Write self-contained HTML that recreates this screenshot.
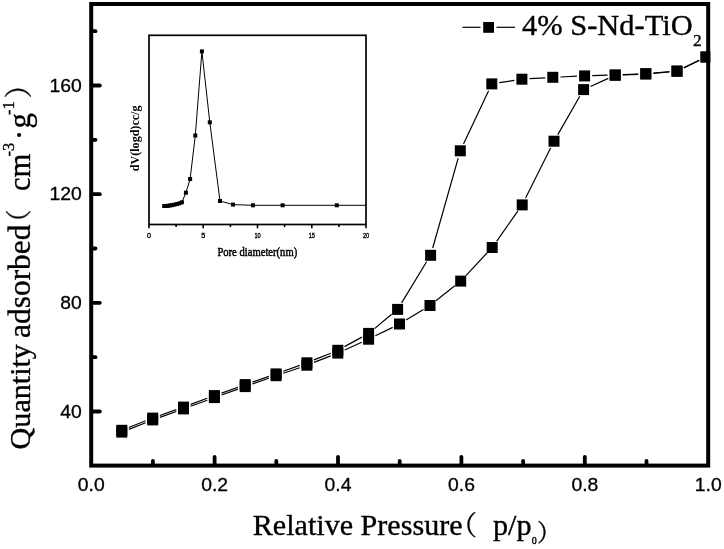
<!DOCTYPE html>
<html><head><meta charset="utf-8"><title>N2 adsorption isotherm</title>
<style>html,body{margin:0;padding:0;background:#fff}svg{display:block}</style></head>
<body>
<svg width="724" height="549" viewBox="0 0 724 549">
<rect width="724" height="549" fill="#fff"/>
<g stroke="#000" stroke-width="1.2" fill="none">
<line x1="128.9" y1="429.4" x2="145.6" y2="422.7"/>
<line x1="159.9" y1="417.4" x2="176.3" y2="411.5"/>
<line x1="190.6" y1="406.3" x2="207.3" y2="400.2"/>
<line x1="221.6" y1="395.0" x2="238.0" y2="389.1"/>
<line x1="252.4" y1="384.0" x2="268.9" y2="378.3"/>
<line x1="283.3" y1="373.3" x2="299.7" y2="367.7"/>
<line x1="314.0" y1="362.4" x2="330.7" y2="355.9"/>
<line x1="344.7" y1="350.0" x2="361.7" y2="342.3"/>
<line x1="375.4" y1="335.8" x2="392.7" y2="327.4"/>
<line x1="406.0" y1="320.1" x2="423.5" y2="309.4"/>
<line x1="435.9" y1="300.8" x2="454.8" y2="285.8"/>
<line x1="465.9" y1="275.6" x2="487.0" y2="253.0"/>
<line x1="496.6" y1="241.3" x2="517.8" y2="211.1"/>
<line x1="525.6" y1="198.1" x2="550.6" y2="148.0"/>
<line x1="557.8" y1="134.6" x2="579.8" y2="96.2"/>
<line x1="590.5" y1="86.5" x2="608.3" y2="78.4"/>
<line x1="622.8" y1="75.0" x2="638.2" y2="74.3"/>
<line x1="653.4" y1="73.3" x2="669.4" y2="72.0"/>
<line x1="683.8" y1="67.9" x2="699.2" y2="60.4"/>
<line x1="699.2" y1="60.3" x2="683.8" y2="67.7"/>
<line x1="669.4" y1="71.7" x2="653.4" y2="73.0"/>
<line x1="638.2" y1="74.0" x2="622.8" y2="74.6"/>
<line x1="607.6" y1="75.1" x2="592.2" y2="75.7"/>
<line x1="577.0" y1="76.2" x2="560.4" y2="77.0"/>
<line x1="545.2" y1="77.8" x2="529.5" y2="78.7"/>
<line x1="514.4" y1="80.4" x2="499.3" y2="82.7"/>
<line x1="488.6" y1="90.8" x2="463.5" y2="143.9"/>
<line x1="458.2" y1="158.1" x2="432.7" y2="248.0"/>
<line x1="426.6" y1="261.8" x2="401.6" y2="302.9"/>
<line x1="391.7" y1="314.2" x2="374.5" y2="328.6"/>
<line x1="361.9" y1="337.1" x2="344.5" y2="346.6"/>
<line x1="330.8" y1="353.2" x2="313.9" y2="359.9"/>
<line x1="299.7" y1="365.4" x2="283.3" y2="371.3"/>
<line x1="268.9" y1="376.4" x2="252.4" y2="382.1"/>
<line x1="238.0" y1="387.2" x2="221.6" y2="393.1"/>
<line x1="207.3" y1="398.3" x2="190.6" y2="404.4"/>
<line x1="176.3" y1="409.6" x2="159.9" y2="415.5"/>
<line x1="145.6" y1="420.8" x2="128.9" y2="427.5"/>
</g>
<clipPath id="pc"><rect x="89" y="2" width="621.2" height="466"/></clipPath>
<g fill="#000" clip-path="url(#pc)">
<rect x="116.3" y="426.6" width="11.0" height="11.0"/>
<rect x="147.2" y="414.4" width="11.0" height="11.0"/>
<rect x="178.0" y="403.4" width="11.0" height="11.0"/>
<rect x="208.9" y="392.1" width="11.0" height="11.0"/>
<rect x="239.7" y="381.1" width="11.0" height="11.0"/>
<rect x="270.6" y="370.2" width="11.0" height="11.0"/>
<rect x="301.4" y="359.7" width="11.0" height="11.0"/>
<rect x="332.3" y="347.6" width="11.0" height="11.0"/>
<rect x="363.1" y="333.7" width="11.0" height="11.0"/>
<rect x="394.0" y="318.5" width="11.0" height="11.0"/>
<rect x="424.5" y="300.0" width="11.0" height="11.0"/>
<rect x="455.2" y="275.6" width="11.0" height="11.0"/>
<rect x="486.7" y="242.0" width="11.0" height="11.0"/>
<rect x="516.7" y="199.4" width="11.0" height="11.0"/>
<rect x="548.5" y="135.7" width="11.0" height="11.0"/>
<rect x="578.1" y="84.1" width="11.0" height="11.0"/>
<rect x="609.7" y="69.8" width="11.0" height="11.0"/>
<rect x="640.3" y="68.5" width="11.0" height="11.0"/>
<rect x="671.5" y="65.8" width="11.0" height="11.0"/>
<rect x="700.5" y="51.5" width="11.0" height="11.0"/>
<rect x="700.5" y="51.5" width="11.0" height="11.0"/>
<rect x="671.5" y="65.5" width="11.0" height="11.0"/>
<rect x="640.3" y="68.2" width="11.0" height="11.0"/>
<rect x="609.7" y="69.4" width="11.0" height="11.0"/>
<rect x="579.1" y="70.4" width="11.0" height="11.0"/>
<rect x="547.3" y="71.8" width="11.0" height="11.0"/>
<rect x="516.4" y="73.7" width="11.0" height="11.0"/>
<rect x="486.3" y="78.4" width="11.0" height="11.0"/>
<rect x="454.8" y="145.3" width="11.0" height="11.0"/>
<rect x="425.1" y="249.8" width="11.0" height="11.0"/>
<rect x="392.1" y="303.9" width="11.0" height="11.0"/>
<rect x="363.1" y="327.9" width="11.0" height="11.0"/>
<rect x="332.3" y="344.8" width="11.0" height="11.0"/>
<rect x="301.4" y="357.3" width="11.0" height="11.0"/>
<rect x="270.6" y="368.4" width="11.0" height="11.0"/>
<rect x="239.7" y="379.1" width="11.0" height="11.0"/>
<rect x="208.9" y="390.1" width="11.0" height="11.0"/>
<rect x="178.0" y="401.6" width="11.0" height="11.0"/>
<rect x="147.2" y="412.6" width="11.0" height="11.0"/>
<rect x="116.3" y="424.8" width="11.0" height="11.0"/>
</g>
<rect x="91.2" y="4.0" width="617.0" height="461.6" fill="none" stroke="#000" stroke-width="4"/>
<g stroke="#000" stroke-width="3.8" stroke-linecap="round">
<line x1="152.9" y1="464.1" x2="152.9" y2="461.0"/>
<line x1="214.6" y1="464.1" x2="214.6" y2="456.8"/>
<line x1="276.3" y1="464.1" x2="276.3" y2="461.0"/>
<line x1="338.0" y1="464.1" x2="338.0" y2="456.8"/>
<line x1="399.7" y1="464.1" x2="399.7" y2="461.0"/>
<line x1="461.4" y1="464.1" x2="461.4" y2="456.8"/>
<line x1="523.1" y1="464.1" x2="523.1" y2="461.0"/>
<line x1="584.8" y1="464.1" x2="584.8" y2="456.8"/>
<line x1="646.5" y1="464.1" x2="646.5" y2="461.0"/>
<line x1="92.7" y1="411.5" x2="99.8" y2="411.5"/>
<line x1="92.7" y1="357.2" x2="95.5" y2="357.2"/>
<line x1="92.7" y1="302.8" x2="99.8" y2="302.8"/>
<line x1="92.7" y1="248.5" x2="95.5" y2="248.5"/>
<line x1="92.7" y1="194.2" x2="99.8" y2="194.2"/>
<line x1="92.7" y1="139.8" x2="95.5" y2="139.8"/>
<line x1="92.7" y1="85.5" x2="99.8" y2="85.5"/>
<line x1="92.7" y1="31.2" x2="95.5" y2="31.2"/>
</g>
<g font-family="'Liberation Sans', Arial, sans-serif" font-size="18.6" fill="#000" stroke="#000" stroke-width="0.3">
<text x="77.8" y="491.2" textLength="26.9" lengthAdjust="spacingAndGlyphs">0.0</text>
<text x="201.2" y="491.2" textLength="26.9" lengthAdjust="spacingAndGlyphs">0.2</text>
<text x="324.6" y="491.2" textLength="26.9" lengthAdjust="spacingAndGlyphs">0.4</text>
<text x="448.0" y="491.2" textLength="26.9" lengthAdjust="spacingAndGlyphs">0.6</text>
<text x="571.4" y="491.2" textLength="26.9" lengthAdjust="spacingAndGlyphs">0.8</text>
<text x="694.8" y="491.2" textLength="26.9" lengthAdjust="spacingAndGlyphs">1.0</text>
<text x="60.3" y="417.7" textLength="21.5" lengthAdjust="spacingAndGlyphs">40</text>
<text x="60.3" y="309.0" textLength="21.5" lengthAdjust="spacingAndGlyphs">80</text>
<text x="49.5" y="200.4" textLength="32.3" lengthAdjust="spacingAndGlyphs">120</text>
<text x="49.5" y="91.7" textLength="32.3" lengthAdjust="spacingAndGlyphs">160</text>
</g>
<g font-family="'Liberation Serif', 'Noto Serif CJK SC', serif" fill="#000" stroke="#000" stroke-width="0.35">
<text x="252.8" y="535" font-size="28.8" textLength="209.8" lengthAdjust="spacingAndGlyphs">Relative Pressure</text>
<text x="450" y="535" font-size="27" font-family="'Noto Serif CJK SC', serif">（</text>
<text x="493" y="535" font-size="28.8" textLength="38.5" lengthAdjust="spacingAndGlyphs">p/p</text>
<text x="531.8" y="544.2" font-size="10">0</text>
<text x="537" y="541" font-size="24" font-family="'Noto Serif CJK SC', serif">）</text>
<g transform="translate(29.5,449.4) rotate(-90)">
<text x="0" y="0" font-size="30.1">Quantity</text>
<text x="111.5" y="0" font-size="31.4">adsorbed</text>
<text x="214" y="-2" font-size="26" font-family="'Noto Serif CJK SC', serif">（</text>
<text x="258.3" y="0" font-size="30.7">cm</text>
<text x="293" y="-16" font-size="16.5">-3</text>
<text x="309.5" y="0" font-size="30.7">·</text>
<text x="321" y="0" font-size="30.7">g</text>
<text x="334.5" y="-16" font-size="16.5">-1</text>
<text x="351" y="-1" font-size="28" font-family="'Noto Serif CJK SC', serif">）</text>
</g>
<line x1="462.5" y1="27.3" x2="480.5" y2="27.3" stroke="#000" stroke-width="1.2"/>
<line x1="496.5" y1="27.3" x2="515" y2="27.3" stroke="#000" stroke-width="1.2"/>
<rect x="483.2" y="22" width="10.8" height="10.8" stroke="none"/>
<text x="522" y="34.5" font-size="28.8" textLength="170.7" lengthAdjust="spacingAndGlyphs">4% S-Nd-TiO</text>
<text x="693" y="45.6" font-size="17.3">2</text>
</g>
<rect x="149.0" y="35.3" width="217.0" height="189.2" fill="#fff" stroke="#000" stroke-width="1.7"/>
<polyline fill="none" stroke="#000" stroke-width="1" points="164.2,206.0 166.0,206.0 168.0,205.8 170.0,205.5 172.0,205.1 174.5,204.6 177.0,204.0 179.5,203.3 181.9,202.3 185.9,192.7 190.1,179.0 195.3,135.5 201.9,51.4 209.8,122.3 220.0,201.0 233.0,204.6 253.0,205.3 282.6,205.3 336.8,205.3 366.0,205.3"/>
<g fill="#000">
<rect x="162.2" y="204.0" width="4" height="4"/>
<rect x="164.0" y="204.0" width="4" height="4"/>
<rect x="166.0" y="203.8" width="4" height="4"/>
<rect x="168.0" y="203.5" width="4" height="4"/>
<rect x="170.0" y="203.1" width="4" height="4"/>
<rect x="172.5" y="202.6" width="4" height="4"/>
<rect x="175.0" y="202.0" width="4" height="4"/>
<rect x="177.5" y="201.3" width="4" height="4"/>
<rect x="179.9" y="200.3" width="4" height="4"/>
<rect x="183.9" y="190.7" width="4" height="4"/>
<rect x="188.1" y="177.0" width="4" height="4"/>
<rect x="193.3" y="133.5" width="4" height="4"/>
<rect x="199.9" y="49.4" width="4" height="4"/>
<rect x="207.8" y="120.3" width="4" height="4"/>
<rect x="218.0" y="199.0" width="4" height="4"/>
<rect x="231.0" y="202.6" width="4" height="4"/>
<rect x="251.0" y="203.3" width="4" height="4"/>
<rect x="280.6" y="203.3" width="4" height="4"/>
<rect x="334.8" y="203.3" width="4" height="4"/>
</g>
<g stroke="#000" stroke-width="1.6">
<line x1="149.0" y1="224.5" x2="149.0" y2="228.3"/>
<line x1="176.1" y1="224.5" x2="176.1" y2="227.1"/>
<line x1="203.2" y1="224.5" x2="203.2" y2="228.3"/>
<line x1="230.4" y1="224.5" x2="230.4" y2="227.1"/>
<line x1="257.5" y1="224.5" x2="257.5" y2="228.3"/>
<line x1="284.6" y1="224.5" x2="284.6" y2="227.1"/>
<line x1="311.8" y1="224.5" x2="311.8" y2="228.3"/>
<line x1="338.9" y1="224.5" x2="338.9" y2="227.1"/>
<line x1="366.0" y1="224.5" x2="366.0" y2="228.3"/>
</g>
<g font-family="'Liberation Sans', Arial, sans-serif" font-size="7.2" fill="#000" stroke="#000" stroke-width="0.35" text-anchor="middle">
<text x="149.0" y="237.6">0</text>
<text x="203.2" y="237.6">5</text>
<text x="257.5" y="237.6" textLength="6.2" lengthAdjust="spacingAndGlyphs">10</text>
<text x="311.8" y="237.6" textLength="6.2" lengthAdjust="spacingAndGlyphs">15</text>
<text x="366.0" y="237.6" textLength="6.2" lengthAdjust="spacingAndGlyphs">20</text>
</g>
<text x="217.4" y="256.2" font-family="'Liberation Serif', 'Noto Serif CJK SC', serif" font-size="13.4" textLength="79.8" lengthAdjust="spacingAndGlyphs" stroke="#000" stroke-width="0.5">Pore diameter(nm)</text>
<text transform="translate(139.1,171.2) rotate(-90)" font-family="'Liberation Serif', 'Noto Serif CJK SC', serif" font-weight="bold" font-size="11.6" textLength="65.7" lengthAdjust="spacingAndGlyphs">dV(logd)cc/g</text>
</svg>
</body></html>
